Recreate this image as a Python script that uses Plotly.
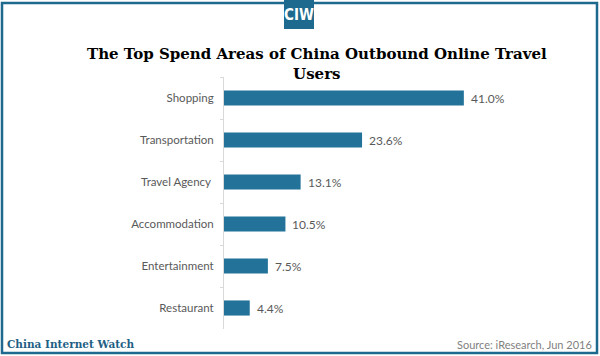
import plotly.graph_objects as go

categories = ["Shopping", "Transportation", "Travel Agency ", "Accommodation", "Entertainment", "Restaurant"]
values = [41.0, 23.6, 13.1, 10.5, 7.5, 4.4]
value_labels = ["41.0%", "23.6%", "13.1%", "10.5%", "7.5%", "4.4%"]

W, H = 600, 356
L, R, T, B = 224, 40, 77, 27
PW, PH = W - L - R, H - T - B

def px(x):
    return (x - L) / PW

def py(y):
    return 1 - (y - T) / PH

BAR = "#22729a"
FRAME = "#1d6a8e"
GRAY = "#595959"

fig = go.Figure()
fig.add_trace(go.Bar(
    x=values, y=categories, orientation="h",
    marker=dict(color=BAR, line=dict(width=0)),
    hoverinfo="skip",
))

annotations = []
for c, v, t in zip(categories, values, value_labels):
    annotations.append(dict(
        x=v, y=c, xref="x", yref="y", text=t, showarrow=False,
        xanchor="left", yanchor="middle", xshift=5,
        font=dict(family="Lato", size=12, color=GRAY),
    ))

# title
annotations.append(dict(
    x=px(317), y=py(64), xref="paper", yref="paper",
    text="<b>The Top Spend Areas of China Outbound Online Travel<br>Users</b>",
    showarrow=False, xanchor="center", yanchor="middle", align="center",
    font=dict(family="DejaVu Serif", size=15, color="#000000"),
))
# logo text
annotations.append(dict(
    x=px(299), y=py(15), xref="paper", yref="paper",
    text="<b>CIW</b>", showarrow=False, xanchor="center", yanchor="middle",
    font=dict(family="DejaVu Sans Condensed, DejaVu Sans", size=15, color="#ffffff"),
))
# footer
annotations.append(dict(
    x=px(5), y=py(344), xref="paper", yref="paper",
    text="<b>China Internet Watch</b>", showarrow=False, xanchor="left", yanchor="middle",
    font=dict(family="DejaVu Serif", size=10.5, color="#1f5f85"),
))
annotations.append(dict(
    x=px(594), y=py(344), xref="paper", yref="paper",
    text="Source: iResearch, Jun 2016", showarrow=False, xanchor="right", yanchor="middle",
    font=dict(family="Lato", size=11, color="#7f7f7f"),
))

shapes = [
    dict(type="rect", xref="paper", yref="paper",
         x0=px(2), x1=px(597), y0=py(3), y1=py(353),
         line=dict(color=FRAME, width=2.5), fillcolor="rgba(0,0,0,0)", layer="above"),
    dict(type="rect", xref="paper", yref="paper",
         x0=px(284), x1=px(314), y0=py(0), y1=py(29),
         line=dict(width=0), fillcolor=FRAME, layer="above"),
]

fig.update_layout(
    width=W, height=H,
    margin=dict(l=L, r=R, t=T, b=B, pad=0),
    paper_bgcolor="white", plot_bgcolor="white",
    showlegend=False,
    bargap=0.64,
    annotations=annotations,
    shapes=shapes,
    xaxis=dict(visible=False, range=[0, PW / 5.85], fixedrange=True),
    yaxis=dict(
        categoryorder="array", categoryarray=categories, autorange="reversed",
        showline=True, linecolor="#d9d9d9", linewidth=1,
        ticks="outside", tickson="boundaries", ticklen=3, tickcolor="#d9d9d9",
        showgrid=False, zeroline=False,
        tickfont=dict(family="Lato", size=11.5, color=GRAY),
        ticklabelstandoff=7,
    ),
)

fig.write_html(
    "out.html",
    config={"displayModeBar": False},
    post_script="document.body.style.margin='0';document.body.style.overflow='hidden';",
)
